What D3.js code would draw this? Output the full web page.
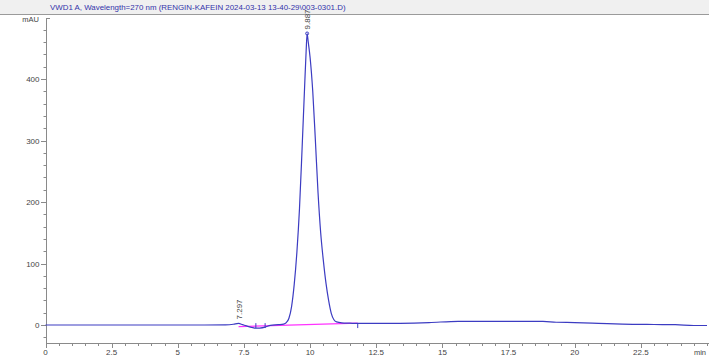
<!DOCTYPE html>
<html><head><meta charset="utf-8">
<script src="https://cdn.jsdelivr.net/npm/d3@7"></script>
<style>body{margin:0;background:#fff}svg{display:block}</style>
</head><body>
<script>
const titleText = "VWD1 A, Wavelength=270 nm (RENGIN-KAFEIN 2024-03-13 13-40-29\\003-0301.D)";
const yUnit = "mAU";
const xUnit = "min";
const xTicks = [0, 2.5, 5, 7.5, 10, 12.5, 15, 17.5, 20, 22.5];
const xTickLabels = ["0", "2.5", "5", "7.5", "10", "12.5", "15", "17.5", "20", "22.5"];
const yTicks = [0, 100, 200, 300, 400];
// chromatogram signal: time (min), absorbance (mAU)
const times = [0, 2, 4, 6, 6.8, 7.1, 7.297, 7.45, 7.6, 7.8, 7.95, 8.1, 8.3, 8.5, 8.8, 9.0, 9.1, 9.2, 9.3, 9.4, 9.5, 9.6, 9.7, 9.8, 9.85, 9.887, 9.93, 10.0, 10.1, 10.2, 10.3, 10.4, 10.5, 10.6, 10.7, 10.8, 10.9, 11.0, 11.2, 11.5, 11.8, 12.5, 13.4, 14.5, 15.6, 17.0, 18.8, 19.3, 20.0, 20.9, 21.8, 23.0, 23.8, 24.5, 25];
const signal = [0, 0, 0, 0, 0.3, 1.2, 2.5, 0.5, -1.5, -4, -5.2, -5, -3.5, -0.5, 0.5, 1.5, 4, 11, 30, 66, 118, 190, 290, 395, 445, 474, 460, 435, 380, 300, 215, 150, 105, 68, 40, 19, 8.5, 5, 3.5, 3, 2.5, 2.5, 2.8, 4, 6, 6, 6, 4.5, 4, 2.8, 1.5, 0.8, 0.5, -0.8, -0.8];
// integration baseline
const baseTimes = [7.297, 11.8];
const baseValues = [-2.5, 3];
// peak annotations
const peakRT = [7.297, 9.887];
const peakLabels = ["7.297", "9.887"];
const peakHeights = [2.5, 474];
// integration event marks
const eventTimes = [7.95, 8.3, 11.8];

const W = 709, H = 358;
const svg = d3.select("body").append("svg").attr("width", W).attr("height", H)
  .style("font-family", "Arial, 'Liberation Sans', sans-serif");

// title bar
svg.append("rect").attr("x",0).attr("y",0).attr("width",W).attr("height",14).attr("fill","#f0f0f0");
svg.append("line").attr("x1",0).attr("x2",W).attr("y1",14.5).attr("y2",14.5).attr("stroke","#9a9a9a");
svg.append("text").attr("x",50).attr("y",10).attr("font-size",7.9).attr("fill","#3333aa").text(titleText);

const x = d3.scaleLinear().domain([0, 25]).range([45.5, 707]);
const y = d3.scaleLinear().domain([0, 400]).range([325, 79]);
const axisY = 343, axisTop = 18;
const axisColor = "#8a8a8a", textColor = "#444";

// y axis
const gy = svg.append("g");
gy.append("line").attr("x1",46.5).attr("x2",46.5).attr("y1",axisTop).attr("y2",axisY).attr("stroke",axisColor);
gy.append("line").attr("x1",46.5).attr("x2",50).attr("y1",axisTop+0.5).attr("y2",axisTop+0.5).attr("stroke",axisColor);
const yMinor = d3.range(-20, 500, 20).filter(v => !yTicks.includes(v) && y(v) > axisTop+3);
gy.selectAll(".ymin").data(yMinor).join("line").attr("x1",43.5).attr("x2",46.5)
  .attr("y1",d=>Math.round(y(d))+0.5).attr("y2",d=>Math.round(y(d))+0.5).attr("stroke",axisColor);
gy.selectAll(".ymaj").data(yTicks).join("line").attr("x1",41).attr("x2",46.5)
  .attr("y1",d=>Math.round(y(d))+0.5).attr("y2",d=>Math.round(y(d))+0.5).attr("stroke",axisColor);
gy.selectAll(".ylab").data(yTicks).join("text").attr("x",39.5).attr("y",d=>y(d)+3)
  .attr("text-anchor","end").attr("font-size",8).attr("fill",textColor).text(d=>d);
gy.append("text").attr("x",39).attr("y",22).attr("text-anchor","end").attr("font-size",7.5).attr("fill",textColor).text(yUnit);

// x axis
const gx = svg.append("g");
gx.append("line").attr("x1",46).attr("x2",W).attr("y1",axisY+0.5).attr("y2",axisY+0.5).attr("stroke",axisColor);
const xMinor = d3.range(0.5, 25.01, 0.5).filter(v => !xTicks.includes(v));
gx.selectAll(".xmin").data(xMinor).join("line").attr("x1",d=>Math.round(x(d))+0.5).attr("x2",d=>Math.round(x(d))+0.5)
  .attr("y1",axisY).attr("y2",axisY+3).attr("stroke",axisColor);
gx.selectAll(".xmaj").data(xTicks).join("line").attr("x1",d=>Math.round(x(d))+0.5).attr("x2",d=>Math.round(x(d))+0.5)
  .attr("y1",axisY).attr("y2",axisY+5).attr("stroke",axisColor);
gx.selectAll(".xlab").data(xTicks).join("text").attr("x",(d)=>x(d)).attr("y",355)
  .attr("text-anchor","middle").attr("font-size",8).attr("fill",textColor).text((d,i)=>xTickLabels[i]);
gx.append("text").attr("x",700).attr("y",355).attr("text-anchor","middle").attr("font-size",7.5).attr("fill",textColor).text(xUnit);

// integration baseline
svg.append("path").datum(baseTimes.map((t,i)=>[t, baseValues[i]]))
  .attr("d", d3.line().x(d=>x(d[0])).y(d=>y(d[1])))
  .attr("fill","none").attr("stroke","#ff33ff").attr("stroke-width",1.2);

// signal
const pts = times.map((t,i)=>[t, signal[i]]);
svg.append("path").datum(pts)
  .attr("d", d3.line().x(d=>x(d[0])).y(d=>y(d[1])).curve(d3.curveMonotoneX))
  .attr("fill","none").attr("stroke","#3c3cc2").attr("stroke-width",1.2);

// event marks
svg.selectAll(".ev").data(eventTimes).join("line")
  .attr("x1",d=>x(d)).attr("x2",d=>x(d)).attr("y1",d=>y(3)).attr("y2",d=>y(-5)).attr("stroke","#3c3cc2");

// peak labels
svg.selectAll(".pk").data(peakRT).join("text")
  .attr("transform",(d,i)=>`translate(${x(d)+3},${y(peakHeights[i])-4}) rotate(-90)`)
  .attr("font-size",8).attr("fill",textColor).text((d,i)=>peakLabels[i]);
svg.append("circle").attr("cx",x(peakRT[1])).attr("cy",y(peakHeights[1])).attr("r",1.5)
  .attr("fill","none").attr("stroke","#3c3cc2");
</script>
</body></html>
